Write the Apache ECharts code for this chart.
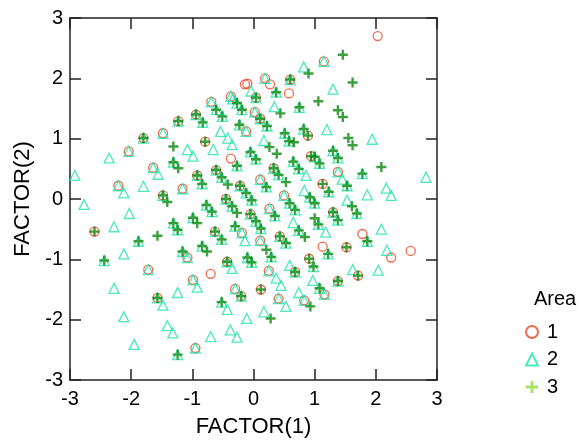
<!DOCTYPE html>
<html>
<head>
<meta charset="utf-8">
<script src="https://cdn.jsdelivr.net/npm/echarts@6/dist/echarts.min.js"></script>
<style>
  html, body { margin: 0; padding: 0; background: #fff; }
  #chart { width: 579px; height: 443px; }
</style>
</head>
<body>
<div id="chart"></div>
<script>
// Factor scores, one list of [FACTOR(1), FACTOR(2)] pairs per area
const area1 = [
  [2.03,2.70],[1.15,2.28],[0.19,2.00],[0.27,1.90],[-0.14,1.90],[-0.10,1.91],[0.60,1.98],
  [0.04,1.68],[0.58,1.75],[-0.69,1.61],[-0.37,1.70],[0.02,1.44],[0.11,1.33],[-0.94,1.40],
  [-0.12,1.12],[0.89,1.05],[-1.23,1.29],[-1.48,1.09],[-1.80,1.01],[-2.04,0.79],[-1.64,0.52],
  [-2.21,0.22],[-1.16,0.17],[-1.48,0.06],[-2.60,-0.54],[-1.08,-0.97],[-1.72,-1.17],[-0.99,-1.34],
  [-1.57,-1.64],[-0.70,-1.24],[-0.43,-1.04],[0.25,-1.19],[0.68,-1.21],[0.91,-0.99],[-0.30,-1.49],
  [-0.20,-1.61],[0.12,-1.50],[0.41,-1.65],[0.83,-1.68],[-0.95,-2.47],[2.25,-0.97],[2.57,-0.86],
  [1.71,-1.27],[1.38,-1.36],[1.16,-1.58],[1.38,0.45],[1.13,0.25],[1.30,-0.22],[1.78,-0.58],
  [1.13,-0.79],[1.52,-0.80],[-0.79,0.95],[-0.37,0.67],[0.94,0.71],[-0.92,0.39],[-0.61,0.48],
  [0.33,0.51],[0.11,0.32],[-0.22,0.22],[0.50,0.06],[-0.45,0.00],[-0.05,-0.25],[0.26,-0.16],
  [-0.19,-0.56],[-0.63,-0.54],[0.11,-0.69],[0.43,-0.62]
];
const area2 = [
  [1.15,2.28],[1.30,1.82],[1.20,1.15],[0.82,2.19],[0.19,2.00],[0.60,1.98],[-0.04,1.79],
  [0.04,1.68],[0.37,1.77],[-0.69,1.61],[-0.37,1.70],[-0.34,1.66],[-0.61,1.48],[-0.27,1.59],
  [-0.19,1.48],[-0.51,1.37],[0.02,1.44],[0.11,1.33],[0.34,1.53],[0.75,1.52],[-0.94,1.40],
  [-0.83,1.27],[-0.23,1.23],[0.22,1.21],[-0.54,1.12],[-0.12,1.12],[0.51,1.09],[0.82,1.16],
  [-1.23,1.29],[-1.48,1.09],[-1.80,1.01],[-1.08,0.82],[-0.99,0.71],[-2.36,0.68],[-2.04,0.79],
  [-1.31,0.61],[-1.64,0.52],[-1.56,0.41],[-2.92,0.39],[-2.21,0.22],[-2.12,0.10],[-1.80,0.21],
  [-1.16,0.17],[-1.48,0.06],[-2.77,-0.09],[-2.03,-0.24],[-0.99,-0.31],[-1.31,-0.40],[-1.24,-0.51],
  [-2.28,-0.46],[-1.88,-0.70],[-2.12,-0.91],[-1.16,-0.87],[-1.08,-0.97],[-2.44,-1.02],[-1.72,-1.17],
  [-0.99,-1.34],[-0.92,-1.46],[-2.28,-1.48],[-1.57,-1.64],[-1.48,-1.76],[-1.24,-1.55],[-2.12,-1.95],
  [-1.41,-2.10],[-1.32,-2.22],[-1.95,-2.41],[-1.24,-2.58],[-0.43,-1.04],[-0.35,-1.15],[-0.10,-0.97],
  [-0.03,-1.05],[0.29,-0.96],[0.25,-1.19],[0.37,-1.31],[0.45,-1.43],[0.59,-1.10],[0.68,-1.21],
  [0.98,-1.12],[0.97,-1.35],[-0.30,-1.49],[-0.20,-1.61],[0.41,-1.65],[0.53,-1.78],[0.74,-1.55],
  [0.83,-1.68],[-0.52,-1.71],[-0.43,-1.83],[-0.11,-1.98],[0.17,-1.87],[-0.38,-2.17],[-0.27,-2.29],
  [-0.70,-2.28],[-0.95,-2.47],[1.62,-1.17],[2.04,-1.18],[1.38,-1.36],[1.08,-1.48],[1.16,-1.58],
  [1.94,0.99],[1.30,0.80],[1.38,0.68],[1.00,0.70],[1.08,0.59],[1.38,0.45],[1.45,0.33],
  [1.78,0.42],[2.82,0.36],[1.23,0.12],[1.53,0.22],[2.17,0.18],[2.25,0.06],[1.86,0.07],
  [1.00,-0.07],[1.53,-0.02],[1.69,-0.24],[1.30,-0.22],[1.38,-0.35],[1.06,-0.42],[1.18,-0.55],
  [2.09,-0.50],[1.86,-0.70],[1.22,-0.91],[2.18,-0.85],[-0.66,0.82],[-0.42,1.01],[-0.35,0.90],
  [0.17,0.97],[0.58,0.96],[-0.05,0.78],[0.04,0.66],[-0.27,0.55],[0.65,0.62],[0.74,0.50],
  [0.86,0.39],[-0.92,0.39],[-0.84,0.25],[-0.61,0.48],[-0.52,0.36],[0.33,0.51],[0.41,0.40],
  [0.11,0.32],[0.21,0.20],[-0.22,0.22],[-0.12,0.10],[-0.03,-0.02],[0.50,0.06],[0.59,-0.07],
  [0.68,-0.18],[0.83,0.14],[0.92,0.03],[-0.45,0.00],[-0.35,-0.12],[-0.77,-0.10],[-0.68,-0.21],
  [-0.05,-0.25],[0.04,-0.37],[0.12,-0.49],[0.26,-0.16],[0.35,-0.28],[0.65,-0.39],[0.74,-0.52],
  [-0.30,-0.45],[-0.19,-0.56],[-0.14,-0.69],[-0.63,-0.54],[-0.52,-0.67],[0.11,-0.69],[0.43,-0.62],
  [0.53,-0.73],[-0.84,-0.78]
];
const area3 = [
  [1.46,2.39],[1.62,1.93],[1.06,1.62],[1.38,1.47],[1.46,1.36],[0.90,2.08],[0.60,1.98],
  [0.04,1.68],[0.37,1.77],[-0.61,1.48],[-0.27,1.59],[-0.19,1.48],[-0.51,1.37],[0.11,1.33],
  [0.44,1.42],[0.75,1.52],[-0.94,1.40],[-0.83,1.27],[-0.23,1.23],[0.22,1.21],[0.51,1.09],
  [0.82,1.16],[0.89,1.05],[-1.23,1.29],[-1.80,1.01],[-1.31,0.87],[-1.31,0.61],[-1.23,0.51],
  [-1.48,0.06],[-1.41,-0.05],[-0.99,-0.31],[-1.31,-0.40],[-1.24,-0.51],[-2.60,-0.54],[-1.57,-0.61],
  [-1.88,-0.70],[-1.16,-0.87],[-2.44,-1.02],[-1.57,-1.64],[-1.24,-2.58],[-0.43,-1.04],[-0.10,-0.97],
  [-0.03,-1.05],[0.29,-0.96],[0.68,-1.21],[0.91,-0.99],[0.98,-1.12],[-0.20,-1.61],[0.12,-1.50],
  [0.93,-1.78],[-0.52,-1.71],[0.28,-1.98],[1.71,-1.27],[1.38,-1.36],[1.08,-1.48],[1.55,1.01],
  [1.62,0.89],[1.30,0.80],[1.38,0.68],[1.00,0.70],[1.08,0.59],[2.09,0.53],[1.78,0.42],
  [1.13,0.25],[1.23,0.12],[1.53,0.22],[1.00,-0.07],[1.61,-0.12],[1.69,-0.24],[1.30,-0.22],
  [1.38,-0.35],[1.00,-0.32],[1.06,-0.42],[1.86,-0.70],[1.52,-0.80],[1.22,-0.91],[-0.79,0.95],
  [0.26,0.86],[0.38,0.75],[0.58,0.96],[0.66,0.94],[-0.05,0.78],[0.04,0.66],[-0.27,0.55],
  [0.65,0.62],[0.74,0.50],[0.94,0.71],[-0.92,0.39],[-0.84,0.25],[-0.61,0.48],[-0.52,0.36],
  [-0.42,0.24],[0.33,0.51],[0.41,0.40],[0.53,0.28],[0.21,0.20],[-0.22,0.22],[-0.12,0.10],
  [-0.03,-0.02],[0.59,-0.07],[0.68,-0.18],[0.92,0.03],[-0.45,0.00],[-0.35,-0.12],[-0.27,-0.23],
  [-0.77,-0.10],[-0.68,-0.21],[-0.05,-0.25],[0.04,-0.37],[0.12,-0.49],[0.35,-0.28],[0.74,-0.52],
  [0.84,-0.63],[-0.92,-0.40],[-0.30,-0.45],[-0.63,-0.54],[-0.52,-0.67],[0.21,-0.84],[0.43,-0.62],
  [0.53,-0.73],[-0.84,-0.78],[-0.76,-0.87]
];

const areaNames = ['1', '2', '3'];
const axisTicks = [-3, -2, -1, 0, 1, 2, 3];

const FONT = '"Liberation Sans", Arial, sans-serif';
const RED = '#ee4422';
const TEAL = '#1ee3aa';
const GREEN = '#0e870e';
const LIGHT_GREEN = '#8ede3a';
// plus marker as a filled cross outline
const PLUS = 'path://M3.8,0h2.4v3.8h3.8v2.4h-3.8v3.8h-2.4v-3.8h-3.8v-2.4h3.8z';

const frameLine = { show: true, onZero: false, lineStyle: { color: '#222', width: 1.5 } };
const innerTick = { show: true, inside: true, length: 11, lineStyle: { color: '#222', width: 1.5 } };
const tickLabel = { color: '#000', fontSize: 20, fontFamily: FONT };

const chart = echarts.init(document.getElementById('chart'), null, { renderer: 'canvas' });

chart.setOption({
  animation: false,
  backgroundColor: '#fff',
  grid: { left: 70, right: 142, top: 18, bottom: 58, containLabel: false },
  title: {
    text: 'Area', left: 529, top: 284,
    textStyle: { fontSize: 20, fontWeight: 'normal', color: '#000', fontFamily: FONT }
  },
  legend: {
    orient: 'vertical', left: 520, top: 317, itemGap: 7.5,
    itemWidth: 12, itemHeight: 12,
    textStyle: { fontSize: 20, color: '#000', fontFamily: FONT, padding: [0, 0, 0, 4] },
    data: [
      { name: areaNames[0] },
      { name: areaNames[1] },
      { name: areaNames[2], itemStyle: { color: LIGHT_GREEN } }
    ]
  },
  xAxis: [
    {
      type: 'value', min: axisTicks[0], max: axisTicks[axisTicks.length - 1], interval: 1,
      name: 'FACTOR(1)', nameLocation: 'middle', nameGap: 36,
      nameTextStyle: { fontSize: 22, color: '#000', fontFamily: FONT },
      axisLine: frameLine, axisTick: innerTick,
      axisLabel: Object.assign({ margin: 9 }, tickLabel),
      splitLine: { show: false }
    },
    {
      type: 'value', position: 'top', min: axisTicks[0], max: axisTicks[axisTicks.length - 1], interval: 1,
      axisLine: frameLine, axisTick: innerTick, axisLabel: { show: false }, splitLine: { show: false }
    }
  ],
  yAxis: [
    {
      type: 'value', min: axisTicks[0], max: axisTicks[axisTicks.length - 1], interval: 1,
      name: 'FACTOR(2)', nameLocation: 'middle', nameGap: 36,
      nameTextStyle: { fontSize: 22, color: '#000', fontFamily: FONT },
      axisLine: frameLine, axisTick: innerTick,
      axisLabel: Object.assign({ margin: 7 }, tickLabel),
      splitLine: { show: false }
    },
    {
      type: 'value', position: 'right', min: axisTicks[0], max: axisTicks[axisTicks.length - 1], interval: 1,
      axisLine: frameLine, axisTick: innerTick, axisLabel: { show: false }, splitLine: { show: false }
    }
  ],
  series: [
    {
      name: areaNames[0], type: 'scatter', data: area1,
      symbol: 'circle', symbolSize: 9,
      itemStyle: { color: 'rgba(0,0,0,0)', borderColor: RED, borderWidth: 1.3 }
    },
    {
      name: areaNames[1], type: 'scatter', data: area2,
      symbol: 'triangle', symbolSize: 10,
      itemStyle: { color: 'rgba(0,0,0,0)', borderColor: TEAL, borderWidth: 1.3 }
    },
    {
      name: areaNames[2], type: 'scatter', data: area3,
      symbol: PLUS, symbolSize: 10,
      itemStyle: { color: GREEN }
    }
  ]
});
</script>
</body>
</html>
